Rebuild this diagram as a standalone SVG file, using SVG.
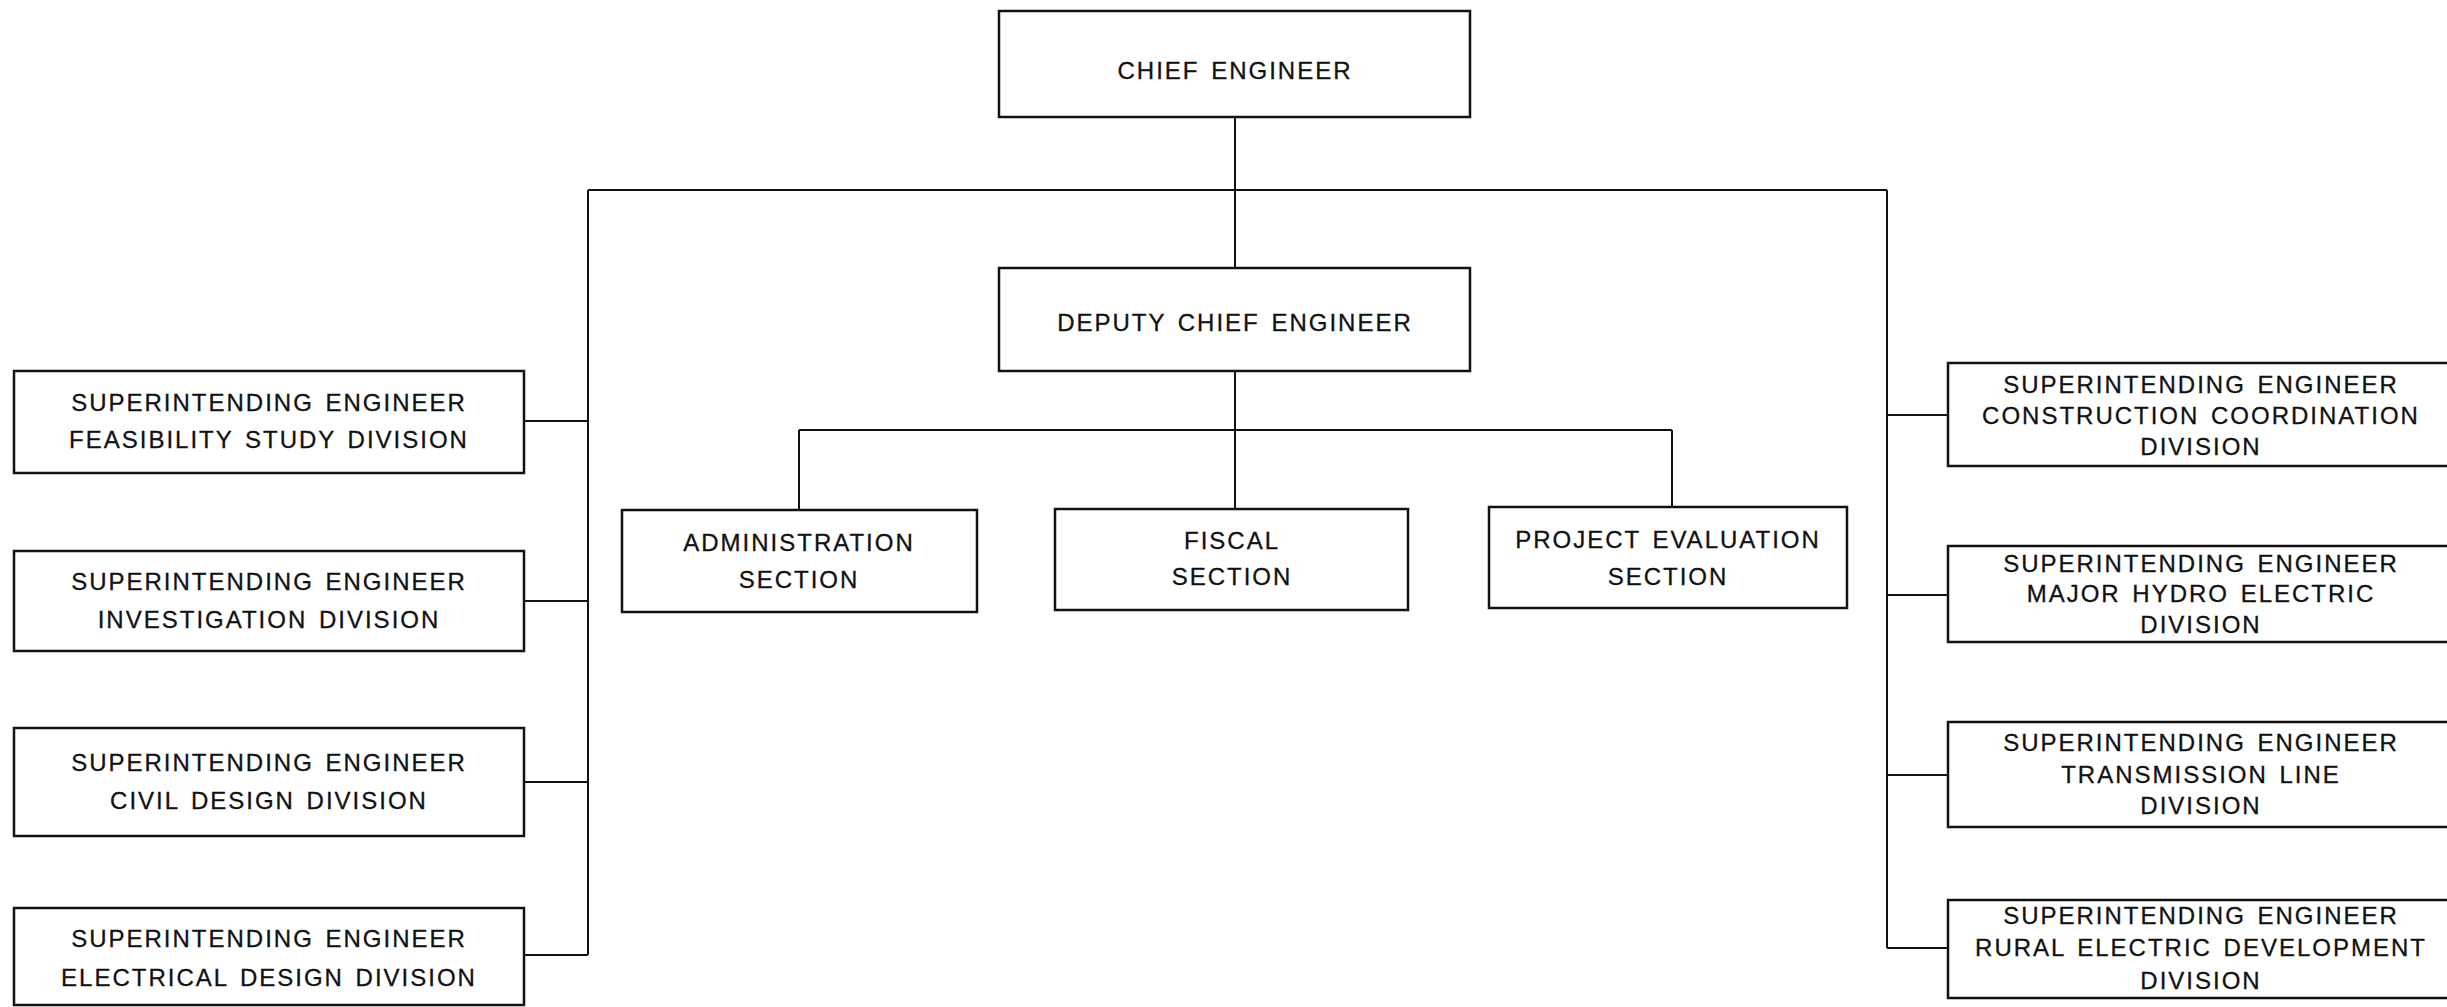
<svg xmlns="http://www.w3.org/2000/svg" width="2447" height="1007" viewBox="0 0 2447 1007">
<style>
.box{fill:none;stroke:#111;stroke-width:2.5}
.con{fill:none;stroke:#111;stroke-width:2}
text{font-family:"Liberation Sans",Arial,sans-serif;font-size:24px;letter-spacing:2px;word-spacing:3px;fill:#111;stroke:#111;stroke-width:0.3;text-anchor:middle}
</style>
<rect width="2447" height="1007" fill="#fff"/>
<g id="connectors">
<path class="con" d="M1235 117V268M588 190H1887M588 190V955M1887 190V948"/>
<path class="con" d="M524 421H588M524 601H588M524 782H588M524 955H588"/>
<path class="con" d="M1887 415H1948M1887 595H1948M1887 775H1948M1887 948H1948"/>
<path class="con" d="M1235 371V509M799 430H1672M799 430V510M1672 430V507"/>
</g>
<g id="chief"><rect class="box" x="999" y="11" width="471" height="106"/><text x="1235" y="79">CHIEF ENGINEER</text></g>
<g id="deputy"><rect class="box" x="999" y="268" width="471" height="103"/><text x="1235" y="331">DEPUTY CHIEF ENGINEER</text></g>
<g id="admin"><rect class="box" x="622" y="510" width="355" height="102"/><text x="799" y="551">ADMINISTRATION</text><text x="799" y="588">SECTION</text></g>
<g id="fiscal"><rect class="box" x="1055" y="509" width="353" height="101"/><text x="1232" y="549">FISCAL</text><text x="1232" y="585">SECTION</text></g>
<g id="project"><rect class="box" x="1489" y="507" width="358" height="101"/><text x="1668" y="548">PROJECT EVALUATION</text><text x="1668" y="585">SECTION</text></g>
<g id="feasibility"><rect class="box" x="14" y="371" width="510" height="102"/><text x="269" y="411">SUPERINTENDING ENGINEER</text><text x="269" y="448">FEASIBILITY STUDY DIVISION</text></g>
<g id="investigation"><rect class="box" x="14" y="551" width="510" height="100"/><text x="269" y="590">SUPERINTENDING ENGINEER</text><text x="269" y="628">INVESTIGATION DIVISION</text></g>
<g id="civil"><rect class="box" x="14" y="728" width="510" height="108"/><text x="269" y="771">SUPERINTENDING ENGINEER</text><text x="269" y="809">CIVIL DESIGN DIVISION</text></g>
<g id="electrical"><rect class="box" x="14" y="908" width="510" height="97"/><text x="269" y="947">SUPERINTENDING ENGINEER</text><text x="269" y="986">ELECTRICAL DESIGN DIVISION</text></g>
<g id="construction"><rect class="box" x="1948" y="363" width="520" height="103"/><text x="2201" y="393">SUPERINTENDING ENGINEER</text><text x="2201" y="424">CONSTRUCTION COORDINATION</text><text x="2201" y="455">DIVISION</text></g>
<g id="hydro"><rect class="box" x="1948" y="546" width="520" height="96"/><text x="2201" y="572">SUPERINTENDING ENGINEER</text><text x="2201" y="602">MAJOR HYDRO ELECTRIC</text><text x="2201" y="633">DIVISION</text></g>
<g id="transmission"><rect class="box" x="1948" y="722" width="520" height="105"/><text x="2201" y="751">SUPERINTENDING ENGINEER</text><text x="2201" y="783">TRANSMISSION LINE</text><text x="2201" y="814">DIVISION</text></g>
<g id="rural"><rect class="box" x="1948" y="900" width="520" height="98"/><text x="2201" y="924">SUPERINTENDING ENGINEER</text><text x="2201" y="956">RURAL ELECTRIC DEVELOPMENT</text><text x="2201" y="989">DIVISION</text></g>
</svg>
